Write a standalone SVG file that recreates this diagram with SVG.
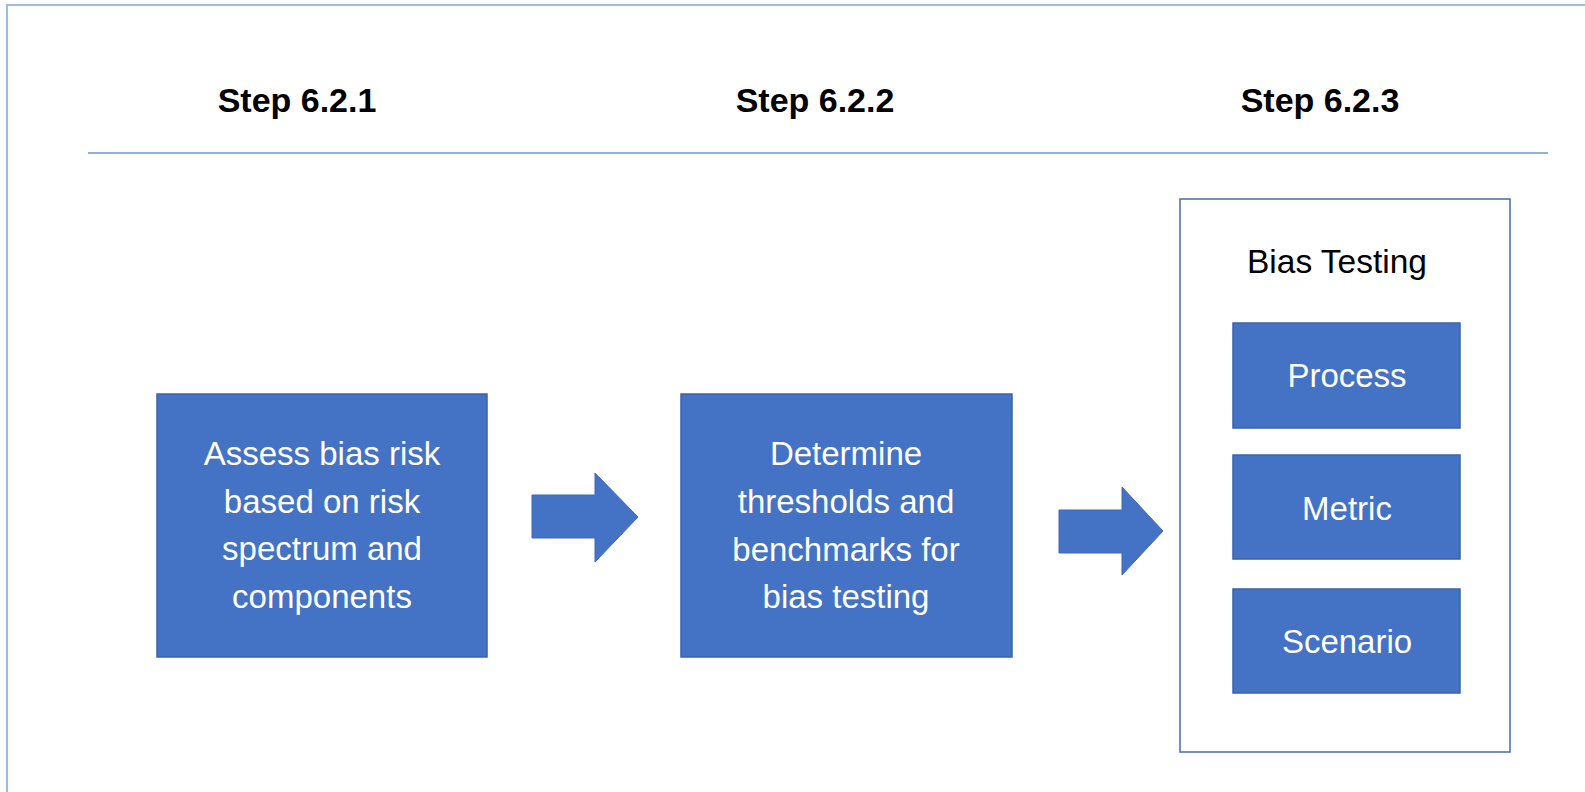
<svg xmlns="http://www.w3.org/2000/svg" width="1585" height="792" viewBox="0 0 1585 792">
<style>
.hdr{font-family:"Liberation Sans",Arial,sans-serif;font-weight:bold;font-size:34px;fill:#000;text-anchor:middle}
.box{fill:#4472c4;stroke:#3a62ad;stroke-width:1.5}
.bt{font-family:"Liberation Sans",Arial,sans-serif;font-size:33px;fill:#fff;text-anchor:middle}
.lbl{font-family:"Liberation Sans",Arial,sans-serif;font-size:33.5px;fill:#000;text-anchor:middle}
.arrow{fill:#4472c4;stroke:#3f69b5;stroke-width:1}
</style>
<rect x="0" y="0" width="1585" height="792" fill="#fff"/>
<path d="M7 792 V5 H1585" fill="none" stroke="#9dbbe3" stroke-width="2"/>
<line x1="88" y1="153" x2="1548" y2="153" stroke="#7096d4" stroke-width="1.5"/>
<g id="headers">
<text class="hdr" x="297" y="112">Step 6.2.1</text>
<text class="hdr" x="815" y="112">Step 6.2.2</text>
<text class="hdr" x="1320" y="112">Step 6.2.3</text>
</g>
<g id="node-assess">
<rect class="box" x="157" y="394" width="330" height="263"/>
<text class="bt" x="322" y="465">Assess bias risk</text>
<text class="bt" x="322" y="513">based on risk</text>
<text class="bt" x="322" y="560">spectrum and</text>
<text class="bt" x="322" y="608">components</text>
</g>
<g id="node-determine">
<rect class="box" x="681" y="394" width="331" height="263"/>
<text class="bt" x="846" y="465">Determine</text>
<text class="bt" x="846" y="513">thresholds and</text>
<text class="bt" x="846" y="561">benchmarks for</text>
<text class="bt" x="846" y="608">bias testing</text>
</g>
<g id="node-biastesting">
<rect x="1180" y="199" width="330" height="553" fill="#fff" stroke="#4a6aa8" stroke-width="1.5"/>
<text class="lbl" x="1337" y="273">Bias Testing</text>
</g>
<g id="node-process">
<rect class="box" x="1233" y="323" width="227" height="105"/>
<text class="bt" x="1347" y="387">Process</text>
</g>
<g id="node-metric">
<rect class="box" x="1233" y="455" width="227" height="104"/>
<text class="bt" x="1347" y="520">Metric</text>
</g>
<g id="node-scenario">
<rect class="box" x="1233" y="589" width="227" height="104"/>
<text class="bt" x="1347" y="653">Scenario</text>
</g>
<g id="connectors">
<path class="arrow" d="M532 495 H595 V473 L638 517 L595 562 V538 H532 Z"/>
<path class="arrow" d="M1059 510 H1122 V487 L1163 531 L1122 575 V553 H1059 Z"/>
</g>
</svg>
